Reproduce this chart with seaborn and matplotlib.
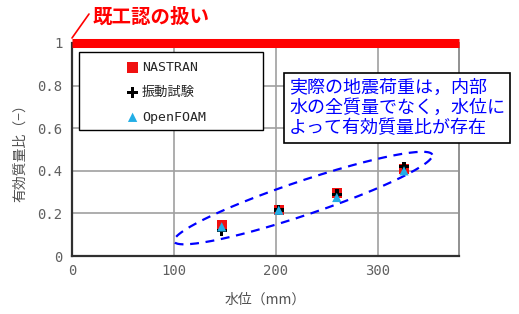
import matplotlib
matplotlib.use("Agg")
import matplotlib.pyplot as plt
from matplotlib.lines import Line2D
from matplotlib.patches import Rectangle
import seaborn as sns
import numpy as np
import pandas as pd

# values
water_level_nastran = [147, 203, 260, 326]
ratio_nastran = [0.146, 0.216, 0.297, 0.407]
water_level_test = [147, 203, 260, 326]
ratio_test = [0.12, 0.215, 0.29, 0.419]
water_level_foam = [147, 203, 260, 326]
ratio_foam = [0.137, 0.215, 0.275, 0.40]

series_names = ["NASTRAN", "振動試験", "OpenFOAM"]
x_ticks = [0, 100, 200, 300]
y_ticks = [0, 0.2, 0.4, 0.6, 0.8, 1]
y_tick_labels = ["0", "0.2", "0.4", "0.6", "0.8", "1"]

sns.set_style("white")
plt.rcParams["font.family"] = ["Noto Sans CJK JP", "DejaVu Sans"]
mono = ["DejaVu Sans Mono", "Noto Sans CJK JP"]

fig = plt.figure(figsize=(5.19, 3.14), dpi=100)
ax = fig.add_axes([72 / 519, 1 - 256 / 314, (459 - 72) / 519, (256 - 43) / 314])

df_nas = pd.DataFrame({"x": water_level_nastran, "y": ratio_nastran})
df_test = pd.DataFrame({"x": water_level_test, "y": ratio_test})
df_foam = pd.DataFrame({"x": water_level_foam, "y": ratio_foam})

sns.scatterplot(data=df_nas, x="x", y="y", ax=ax, marker="s", s=55, color="#f01010",
                edgecolor="none", zorder=4, label=series_names[0])
sns.scatterplot(data=df_test, x="x", y="y", ax=ax, marker="P", s=55, color="black",
                edgecolor="none", zorder=5, label=series_names[1])
sns.scatterplot(data=df_foam, x="x", y="y", ax=ax, marker="^", s=45, color="#22aee6",
                edgecolor="none", zorder=6, label=series_names[2])

ax.set_xlim(0, 380)
ax.set_ylim(0, 1)
ax.set_xticks(x_ticks)
ax.set_yticks(y_ticks)
ax.set_yticklabels(y_tick_labels)
ax.grid(True, color="#a0a0a0", linewidth=1.2)
ax.set_axisbelow(True)
ax.tick_params(direction="in", length=4, colors="#404040", labelcolor="#606060",
               labelsize=10)
ax.tick_params(axis="y", pad=7)
ax.tick_params(axis="x", pad=6)
for lab in ax.get_xticklabels() + ax.get_yticklabels():
    lab.set_family(mono)

ax.spines["left"].set_color("#303030")
ax.spines["bottom"].set_color("#303030")
ax.spines["left"].set_linewidth(1.6)
ax.spines["bottom"].set_linewidth(1.6)
ax.spines["right"].set_color("#909090")
ax.spines["right"].set_linewidth(1.4)
ax.spines["top"].set_visible(False)

ax.set_xlabel("水位（mm）", fontsize=10, color="#505050")
ax.set_ylabel("有効質量比（−）", fontsize=10, color="#505050")
ax.xaxis.set_label_coords(0.5, (256 - 300) / 213)
ax.yaxis.set_label_coords((20 - 72) / 387, 0.5)
ax.xaxis.label.set_va("center")
ax.yaxis.label.set_va("center")

# red bar at the previous design value
ax.axhline(1, color="red", linewidth=6.5, clip_on=False, zorder=10, solid_capstyle="butt")
fig.add_artist(Line2D([72 / 519, 89 / 519], [1 - 38 / 314, 1 - 14 / 314],
                      color="red", linewidth=1.2))
fig.text(93 / 519, 1 - 17 / 314, "既工認の扱い", color="red", fontsize=14,
         fontweight="bold", va="center", ha="left")

# dashed ellipse around the data
px_x, px_y = 1.017, 213.0
t = np.linspace(0, 2 * np.pi, 200)
a, b, th = 136, 17, np.deg2rad(18.6)
ex = 227 + (a * np.cos(t) * np.cos(th) - b * np.sin(t) * np.sin(th)) / px_x
ey = 0.272 + (a * np.cos(t) * np.sin(th) + b * np.sin(t) * np.cos(th)) / px_y
ax.plot(ex, ey, color="blue", linestyle=(0, (4, 3)), linewidth=1.6, zorder=3)

# legend box
ax.add_patch(Rectangle(((79 - 72) / 387, (256 - 130) / 213), (263 - 79) / 387, 78 / 213,
                       transform=ax.transAxes, facecolor="white", edgecolor="black",
                       linewidth=1.0, zorder=7))
leg = ax.legend(loc="upper left", bbox_to_anchor=((126 - 72) / 387, 1 - 18 / 213),
                frameon=False, handletextpad=0.2, labelspacing=0.9, borderpad=0,
                handlelength=1.0, fontsize=9.5, borderaxespad=0)
for txt in leg.get_texts():
    txt.set_family(mono)
leg.set_zorder(8)

fig.text(289 / 519, 1 - 108 / 314,
         "実際の地震荷重は，内部\n水の全質量でなく，水位に\nよって有効質量比が存在",
         color="blue", fontsize=13, va="center", ha="left", linespacing=1.15,
         bbox=dict(boxstyle="square,pad=0.3", facecolor="white", edgecolor="black",
                   linewidth=1.2), zorder=20)

fig.savefig("out.png", dpi=100)
